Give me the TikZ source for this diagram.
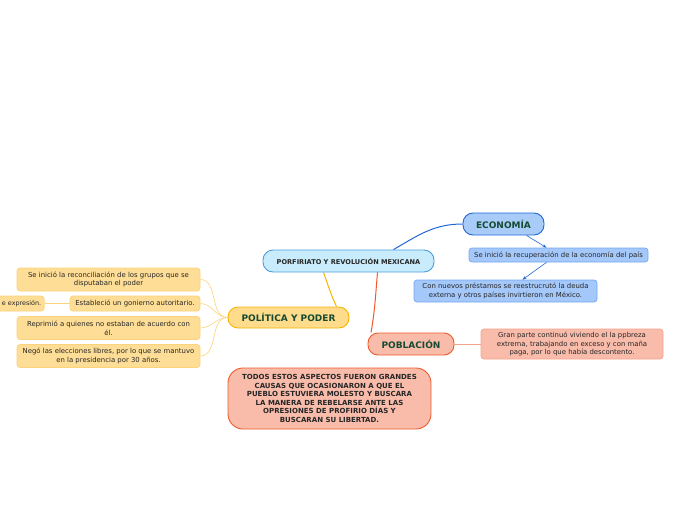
\documentclass[tikz,border=0pt]{standalone}
\usepackage{fontspec}
\setmainfont{DejaVu Sans}
\usepackage{xcolor}
\usetikzlibrary{arrows.meta,positioning,calc}

\definecolor{rootfill}{HTML}{C9ECFC}
\definecolor{rootline}{HTML}{4A9EDE}
\definecolor{ecofill}{HTML}{A8CBF8}
\definecolor{ecoline}{HTML}{1F66D8}
\definecolor{ecosub}{HTML}{A5C8FA}
\definecolor{ecosubline}{HTML}{74A8F0}
\definecolor{polfill}{HTML}{FEDC8C}
\definecolor{polline}{HTML}{F5B400}
\definecolor{polsub}{HTML}{FEDE96}
\definecolor{polsubline}{HTML}{FCD27A}
\definecolor{pobfill}{HTML}{F9BCAA}
\definecolor{pobline}{HTML}{EF5A2C}
\definecolor{pobsubline}{HTML}{F5A48C}
\definecolor{headtext}{HTML}{174A32}

\begin{document}
\begin{tikzpicture}[x=1pt, y=-1pt, font=\fontsize{6.9}{8.8}\selectfont,
  box/.style={draw, align=center, inner sep=1pt, text=black!85, line width=0.7pt},
  pill/.style={box, rounded corners=10pt, font=\fontsize{9}{10}\selectfont\bfseries, text=headtext, line width=0.9pt},
  leaf/.style={box, rounded corners=3pt}]

  \useasboundingbox (0,0) rectangle (696,520);

  \node[pill, fill=rootfill, draw=rootline, minimum width=171pt, minimum height=22pt,
        font=\fontsize{6.6}{8}\selectfont\bfseries, text=black!85] (root) at (348.5,261) {PORFIRIATO Y REVOLUCIÓN MEXICANA};

  \begin{scope}
    \node[pill, fill=ecofill, draw=ecoline, minimum width=81pt, minimum height=22pt] (eco) at (503.5,224) {ECONOMÍA};
    \node[leaf, fill=ecosub, draw=ecosubline, minimum width=179pt, minimum height=14pt] (recup) at (558.5,255) {Se inició la recuperación de la economía del país};
    \node[leaf, fill=ecosub, draw=ecosubline, minimum width=183pt, minimum height=22pt] (deuda) at (505.5,291) {Con nuevos préstamos se reestrucrutó la deuda\\ externa y otros países invirtieron en México.};
    \draw[ecoline, line width=1pt] ([xshift=45pt]root.north) to[out=30, in=180] (eco.west);
    \draw[ecoline, line width=0.6pt, -{Stealth[length=4pt, width=3pt]}] ([xshift=23pt]eco.south) -- ([xshift=-12pt]recup.north);
    \draw[ecoline, line width=0.6pt, -{Stealth[length=4pt, width=3pt]}] ([xshift=-12pt]recup.south) -- ([xshift=17pt]deuda.north);
  \end{scope}

  \begin{scope}
    \node[pill, fill=polfill, draw=polline, minimum width=121pt, minimum height=21pt] (pol) at (288.5,317.5) {POLÍTICA Y PODER};
    \node[leaf, fill=polsub, draw=polsubline, minimum width=183pt, minimum height=23pt] (recon) at (108.5,279.5) {Se inició la reconciliación de los grupos que se\\ disputaban el poder};
    \node[leaf, fill=polsub, draw=polsubline, minimum width=130pt, minimum height=15pt] (autor) at (135,303.5) {Estableció un gonierno autoritario.};
    \node[leaf, fill=polsub, draw=polsubline, text width=54pt, align=right, minimum height=15pt, anchor=east, inner xsep=3pt,
          font=\fontsize{6.4}{8}\selectfont] (expr) at (44.5,303.5) {e expresión.};
    \node[leaf, fill=polsub, draw=polsubline, minimum width=183pt, minimum height=23pt] (repr) at (108.5,328) {Reprimió a quienes no estaban de acuerdo con\\ él.};
    \node[leaf, fill=polsub, draw=polsubline, minimum width=183pt, minimum height=23pt] (elec) at (108.5,356) {Negó las elecciones libres, por lo que se mantuvo\\ en la presidencia por 30 años.};
    \draw[polline, line width=1pt] ([xshift=-25pt]root.south) to[out=-70, in=115] ([xshift=48pt]pol.north);
    \foreach \leafname in {recon, autor, repr, elec}
      \draw[polsubline, line width=0.6pt] (pol.west) to[out=180, in=0] (\leafname.east);
    \draw[polsubline, line width=0.6pt] (autor.west) -- (expr.east);
  \end{scope}

  \begin{scope}
    \node[pill, fill=pobfill, draw=pobline, minimum width=86pt, minimum height=22pt] (pob) at (411,344) {POBLACIÓN};
    \node[leaf, fill=pobfill, draw=pobsubline, minimum width=182pt, minimum height=30pt] (pobreza) at (572,344) {Gran parte continuó viviendo el la ppbreza\\ extrema, trabajando en exceso y con maña\\ paga, por lo que había descontento.};
    \draw[pobline, line width=1pt] ([xshift=29pt]root.south) to[out=-95, in=80] ([xshift=-40pt]pob.north);
    \draw[pobsubline, line width=0.6pt] (pob.east) -- (pobreza.west);
  \end{scope}

  \node[box, rounded corners=15pt, fill=pobfill, draw=pobline, line width=0.9pt, minimum width=203pt, minimum height=61pt,
        font=\fontsize{7}{8.5}\selectfont\bfseries] (causas) at (329.5,398.5)
    {TODOS ESTOS ASPECTOS FUERON GRANDES\\ CAUSAS QUE OCASIONARON A QUE EL\\ PUEBLO ESTUVIERA MOLESTO Y BUSCARA\\ LA MANERA DE REBELARSE ANTE LAS\\ OPRESIONES DE PROFIRIO DÍAS Y\\ BUSCARAN SU LIBERTAD.};
\end{tikzpicture}
\end{document}
